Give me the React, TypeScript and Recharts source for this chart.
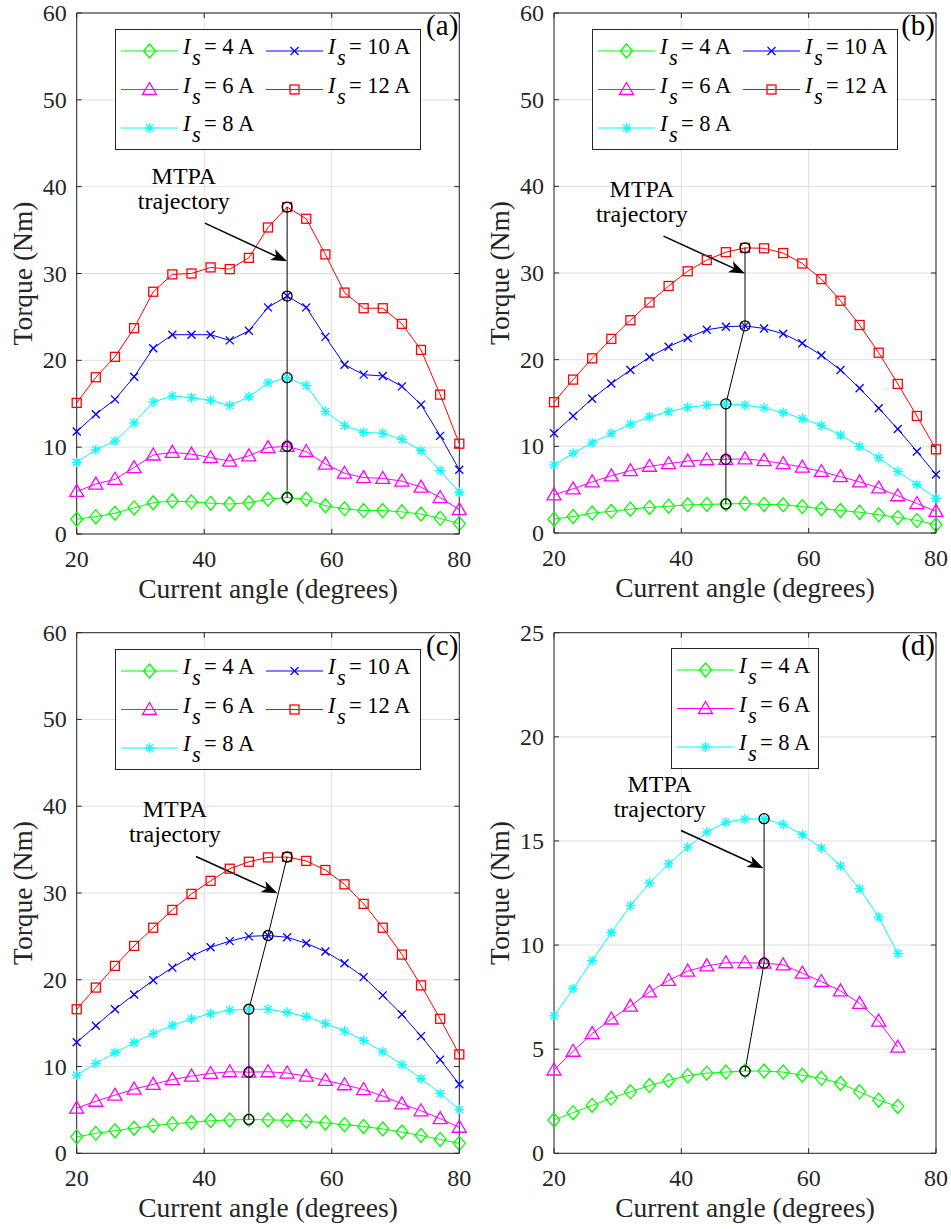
import React from "react";
import {
  LineChart,
  Line,
  XAxis,
  YAxis,
  CartesianGrid,
  Legend,
  ReferenceDot,
  ReferenceLine,
  ReferenceArea,
} from "recharts";

const FONT = "Liberation Serif, Times New Roman, serif";
const INK = "#262626";

// current angle samples (degrees)
const angles = [20, 23, 26, 29, 32, 35, 38, 41, 44, 47, 50, 53, 56, 59, 62, 65, 68, 71, 74, 77, 80];
const anglesD = [20, 23, 26, 29, 32, 35, 38, 41, 44, 47, 50, 53, 56, 59, 62, 65, 68, 71, 74];

// (a)
const a4 = [1.7, 2.0, 2.4, 3.0, 3.6, 3.8, 3.7, 3.55, 3.45, 3.6, 4.0, 4.2, 4.0, 3.25, 2.9, 2.7, 2.7, 2.55, 2.3, 1.8, 1.2];
const a6 = [4.9, 5.75, 6.3, 7.65, 9.1, 9.4, 9.2, 8.8, 8.4, 9.0, 9.95, 10.1, 9.5, 8.05, 7.0, 6.5, 6.4, 6.1, 5.4, 4.2, 2.8];
const a8 = [8.25, 9.7, 10.7, 12.8, 15.2, 15.9, 15.7, 15.4, 14.8, 15.8, 17.4, 18.0, 17.1, 14.1, 12.5, 11.7, 11.6, 10.9, 9.6, 7.3, 4.8];
const a10 = [11.8, 13.8, 15.5, 18.1, 21.4, 22.95, 22.95, 22.95, 22.3, 23.4, 26.1, 27.4, 26.1, 22.7, 19.5, 18.35, 18.2, 17.0, 14.9, 11.3, 7.4];
const a12 = [15.1, 18.05, 20.4, 23.7, 27.9, 29.9, 30.0, 30.7, 30.5, 31.8, 35.3, 37.65, 36.3, 32.2, 27.8, 26.0, 26.0, 24.2, 21.2, 16.05, 10.4];
const mtpaAngleA = [53, 53, 53, 53, 53];
const mtpaTorqueA = [4.2, 10.1, 18.0, 27.4, 37.65];

// (b)
const b4 = [1.6, 1.9, 2.3, 2.5, 2.75, 2.95, 3.1, 3.25, 3.3, 3.35, 3.4, 3.3, 3.25, 3.05, 2.8, 2.6, 2.4, 2.1, 1.8, 1.45, 0.95];
const b6 = [4.4, 5.1, 5.9, 6.6, 7.2, 7.7, 8.0, 8.3, 8.45, 8.5, 8.55, 8.35, 8.0, 7.6, 7.1, 6.5, 5.9, 5.2, 4.3, 3.4, 2.5];
const b8 = [7.85, 9.2, 10.4, 11.5, 12.55, 13.4, 14.0, 14.5, 14.75, 14.9, 14.75, 14.45, 13.9, 13.2, 12.4, 11.3, 10.0, 8.7, 7.1, 5.6, 4.0];
const b10 = [11.5, 13.5, 15.5, 17.25, 18.8, 20.3, 21.5, 22.5, 23.45, 23.8, 23.9, 23.6, 23.0, 21.9, 20.5, 18.8, 16.7, 14.4, 12.0, 9.4, 6.75];
const b12 = [15.1, 17.7, 20.15, 22.4, 24.55, 26.6, 28.5, 30.2, 31.5, 32.4, 32.9, 32.85, 32.3, 31.1, 29.3, 26.8, 24.0, 20.8, 17.2, 13.5, 9.65];
const mtpaAngleB = [47, 47, 47, 50, 50];
const mtpaTorqueB = [3.35, 8.5, 14.9, 23.9, 32.9];

// (c)
const c4 = [1.9, 2.3, 2.6, 2.9, 3.2, 3.4, 3.55, 3.75, 3.85, 3.9, 3.85, 3.8, 3.7, 3.5, 3.3, 3.1, 2.8, 2.45, 2.05, 1.6, 1.15];
const c6 = [5.2, 6.0, 6.7, 7.4, 7.95, 8.5, 8.9, 9.2, 9.4, 9.35, 9.4, 9.25, 8.9, 8.4, 7.9, 7.35, 6.6, 5.7, 4.9, 4.0, 3.0];
const c8 = [9.0, 10.35, 11.6, 12.75, 13.8, 14.75, 15.5, 16.1, 16.5, 16.6, 16.6, 16.25, 15.75, 14.95, 14.1, 13.0, 11.7, 10.2, 8.6, 6.9, 5.05];
const c10 = [12.8, 14.7, 16.6, 18.3, 19.95, 21.4, 22.7, 23.75, 24.45, 25.0, 25.1, 24.9, 24.2, 23.25, 21.9, 20.3, 18.2, 16.0, 13.5, 10.8, 7.95];
const c12 = [16.6, 19.1, 21.6, 23.9, 26.0, 28.05, 29.9, 31.4, 32.8, 33.6, 34.1, 34.15, 33.7, 32.65, 31.0, 28.75, 26.0, 22.9, 19.35, 15.5, 11.4];
const mtpaAngleC = [47, 47, 47, 50, 53];
const mtpaTorqueC = [3.9, 9.35, 16.6, 25.1, 34.15];

// (d)
const d4 = [1.6, 1.95, 2.3, 2.65, 2.95, 3.25, 3.5, 3.73, 3.85, 3.9, 3.95, 3.95, 3.9, 3.75, 3.6, 3.35, 2.95, 2.55, 2.25];
const d6 = [4.0, 4.9, 5.75, 6.45, 7.07, 7.75, 8.3, 8.75, 9.0, 9.15, 9.15, 9.13, 9.05, 8.65, 8.25, 7.8, 7.2, 6.35, 5.1];
const d8 = [6.6, 7.9, 9.25, 10.6, 11.9, 12.98, 13.9, 14.7, 15.43, 15.9, 16.05, 16.07, 15.8, 15.3, 14.66, 13.8, 12.7, 11.35, 9.6];
const mtpaAngleD = [50, 53, 53];
const mtpaTorqueD = [3.95, 9.13, 16.07];

const xTicks = [20, 40, 60, 80];
const yTicks60 = [0, 10, 20, 30, 40, 50, 60];
const yTicks25 = [0, 5, 10, 15, 20, 25];

type Kind = "diamond" | "triangle" | "star" | "cross" | "square" | "circle";

const SERIES: Record<string, { amps: number; color: string; kind: Kind }> = {
  i4: { amps: 4, color: "#00ff00", kind: "diamond" },
  i6: { amps: 6, color: "#ff00ff", kind: "triangle" },
  i8: { amps: 8, color: "#00ffff", kind: "star" },
  i10: { amps: 10, color: "#0000ff", kind: "cross" },
  i12: { amps: 12, color: "#ff0000", kind: "square" },
};

const table = (xs: number[], cols: Record<string, number[]>) =>
  xs.map((angle, i) => {
    const row: Record<string, number> = { angle };
    Object.keys(cols).forEach((k) => (row[k] = cols[k][i]));
    return row;
  });

const mtpaRows = (xs: number[], ts: number[]) => xs.map((angle, i) => ({ angle, t: ts[i] }));

function Marker({ kind, cx, cy, color }: { kind: Kind; cx: number; cy: number; color: string }) {
  const sw = 1.3;
  switch (kind) {
    case "diamond":
      return (
        <polygon
          points={`${cx},${cy - 7} ${cx + 6},${cy} ${cx},${cy + 7} ${cx - 6},${cy}`}
          fill="none"
          stroke={color}
          strokeWidth={sw}
        />
      );
    case "triangle":
      return (
        <polygon
          points={`${cx},${cy - 7} ${cx + 7},${cy + 5} ${cx - 7},${cy + 5}`}
          fill="none"
          stroke={color}
          strokeWidth={sw}
        />
      );
    case "star":
      return (
        <g stroke={color} strokeWidth={sw}>
          <line x1={cx - 5} y1={cy} x2={cx + 5} y2={cy} />
          <line x1={cx} y1={cy - 5} x2={cx} y2={cy + 5} />
          <line x1={cx - 3.6} y1={cy - 3.6} x2={cx + 3.6} y2={cy + 3.6} />
          <line x1={cx - 3.6} y1={cy + 3.6} x2={cx + 3.6} y2={cy - 3.6} />
        </g>
      );
    case "cross":
      return (
        <g stroke={color} strokeWidth={sw}>
          <line x1={cx - 4} y1={cy - 4} x2={cx + 4} y2={cy + 4} />
          <line x1={cx - 4} y1={cy + 4} x2={cx + 4} y2={cy - 4} />
        </g>
      );
    case "square":
      return <rect x={cx - 4.5} y={cy - 4.5} width={9} height={9} fill="none" stroke={color} strokeWidth={sw} />;
    default:
      return <circle cx={cx} cy={cy} r={5} fill="none" stroke={color} strokeWidth={sw} />;
  }
}

function Arrow(p: any) {
  const { x1, y1, x2, y2 } = p;
  const dx = x2 - x1;
  const dy = y2 - y1;
  const len = Math.hypot(dx, dy) || 1;
  const ux = dx / len;
  const uy = dy / len;
  const hl = 16;
  const hw = 6;
  const bx = x2 - ux * hl;
  const by = y2 - uy * hl;
  const nx = x2 - ux * hl * 0.75;
  const ny = y2 - uy * hl * 0.75;
  return (
    <g>
      <line x1={x1} y1={y1} x2={nx} y2={ny} stroke="#000" strokeWidth={1.5} />
      <polygon
        points={`${x2},${y2} ${bx - uy * hw},${by + ux * hw} ${nx},${ny} ${bx + uy * hw},${by - ux * hw}`}
        fill="#000"
      />
    </g>
  );
}

function LegendBox({ keys, width }: { keys: string[]; width: number }) {
  return (
    <svg width={width} height={121} style={{ display: "block", fontFamily: FONT }}>
      <rect x={0.5} y={0.5} width={width - 1} height={120} fill="#fff" stroke={INK} strokeWidth={1} />
      {keys.map((k, i) => {
        const s = SERIES[k];
        const X = 6 + Math.floor(i / 3) * 145;
        const Y = 22 + (i % 3) * 38.5;
        return (
          <g key={k} fontFamily={FONT} fontSize={22.5} fill="#000">
            <line x1={X} x2={X + 57} y1={Y} y2={Y} stroke={s.color} strokeWidth={1} />
            <Marker kind={s.kind} cx={X + 28.5} cy={Y} color={s.color} />
            <text x={X + 62} y={Y + 3} fontStyle="italic">I</text>
            <text x={X + 71} y={Y + 14} fontStyle="italic">s</text>
            <text x={X + 83} y={Y + 3}>{`= ${s.amps} A`}</text>
          </g>
        );
      })}
    </svg>
  );
}

type PanelCfg = {
  left: number;
  top: number;
  width: number;
  height: number;
  plotLeft: number;
  plotTop: number;
  plotRight: number;
  plotBottom: number;
  rows: Record<string, number>[];
  keys: string[];
  mtpa: { angle: number; t: number }[];
  yMax: number;
  yTicks: number[];
  tag: string;
  note: { x: number; y: number };
  arrow: { x1: number; y1: number; x2: number; y2: number };
  legend: { left: number; top: number; width: number; keys: string[] };
};

function Panel(c: PanelCfg) {
  const pw = c.width - c.plotLeft - c.plotRight;
  const ph = c.height - c.plotTop - c.plotBottom;
  return (
    <div style={{ position: "absolute", left: c.left, top: c.top, fontFamily: FONT }}>
      <LineChart
        width={c.width}
        height={c.height}
        data={c.rows}
        margin={{ top: c.plotTop, right: c.plotRight, bottom: 0, left: 0 }}
        style={{ fontFamily: FONT }}
      >
        <CartesianGrid stroke="#dfdfdf" strokeWidth={1} />
        <XAxis
          dataKey="angle"
          type="number"
          domain={[20, 80]}
          ticks={xTicks}
          height={c.plotBottom}
          axisLine={false}
          tickLine={false}
          tickSize={0}
          tickMargin={0}
          tick={(p: any) => (
            <g>
              <line x1={p.x} x2={p.x} y1={p.y} y2={p.y - 5} stroke={INK} />
              <line x1={p.x} x2={p.x} y1={p.y - ph} y2={p.y - ph + 5} stroke={INK} />
              <text x={p.x} y={p.y + 33} textAnchor="middle" fontFamily={FONT} fontSize={24} fill={INK}>
                {p.payload.value}
              </text>
            </g>
          )}
          label={(p: any) => {
            const vb = p.viewBox || { x: c.plotLeft, y: c.plotTop + ph, width: pw };
            return (
              <text
                x={vb.x + vb.width / 2}
                y={vb.y + 64}
                textAnchor="middle"
                fontFamily={FONT}
                fontSize={27.5}
                fill={INK}
              >
                Current angle (degrees)
              </text>
            );
          }}
        />
        <YAxis
          type="number"
          domain={[0, c.yMax]}
          ticks={c.yTicks}
          width={c.plotLeft}
          axisLine={false}
          tickLine={false}
          tickSize={0}
          tickMargin={0}
          tick={(p: any) => (
            <g>
              <line x1={p.x} x2={p.x + 5} y1={p.y} y2={p.y} stroke={INK} />
              <line x1={p.x + pw} x2={p.x + pw - 5} y1={p.y} y2={p.y} stroke={INK} />
              <text x={p.x - 10} y={p.y + 8} textAnchor="end" fontFamily={FONT} fontSize={24} fill={INK}>
                {p.payload.value}
              </text>
            </g>
          )}
          label={(p: any) => {
            const vb = p.viewBox || { x: 0, y: c.plotTop, width: c.plotLeft, height: ph };
            const lx = vb.x + vb.width - 45;
            const ly = vb.y + vb.height / 2;
            return (
              <text
                x={lx}
                y={ly}
                transform={`rotate(-90 ${lx} ${ly})`}
                textAnchor="middle"
                fontFamily={FONT}
                fontSize={27.5}
                fill={INK}
              >
                Torque (Nm)
              </text>
            );
          }}
        />
        {c.keys.map((k) => {
          const s = SERIES[k];
          return (
            <Line
              key={k}
              dataKey={k}
              type="linear"
              stroke={s.color}
              strokeWidth={1}
              isAnimationActive={false}
              activeDot={false}
              dot={(p: any) =>
                p.cx == null ? <g key={`${k}-${p.index}`} /> : (
                  <Marker key={`${k}-${p.index}`} kind={s.kind} cx={p.cx} cy={p.cy} color={s.color} />
                )
              }
            />
          );
        })}
        <Line
          data={c.mtpa}
          dataKey="t"
          type="linear"
          stroke="#000"
          strokeWidth={1}
          isAnimationActive={false}
          activeDot={false}
          dot={(p: any) => <Marker key={`m-${p.index}`} kind="circle" cx={p.cx} cy={p.cy} color="#000" />}
        />
        <ReferenceArea x1={20} x2={80} y1={0} y2={c.yMax} fill="none" stroke={INK} strokeWidth={1} ifOverflow="visible" />
        <ReferenceLine
          segment={[
            { x: c.arrow.x1, y: c.arrow.y1 },
            { x: c.arrow.x2, y: c.arrow.y2 },
          ]}
          ifOverflow="visible"
          shape={(p: any) => <Arrow {...p} />}
        />
        <ReferenceDot
          x={c.note.x}
          y={c.note.y}
          r={0}
          ifOverflow="visible"
          shape={(p: any) => (
            <text x={p.cx} y={p.cy} textAnchor="middle" fontFamily={FONT} fontSize={24} fill="#000">
              <tspan x={p.cx} dy={0}>MTPA</tspan>
              <tspan x={p.cx} dy={25}>trajectory</tspan>
            </text>
          )}
        />
        <ReferenceDot
          x={80}
          y={c.yMax}
          r={0}
          ifOverflow="visible"
          shape={(p: any) => (
            <text x={p.cx - 1} y={p.cy + 22} textAnchor="end" fontFamily={FONT} fontSize={29} fill="#000">
              {c.tag}
            </text>
          )}
        />
        <Legend
          layout="vertical"
          verticalAlign="middle"
          align="center"
          wrapperStyle={{ left: c.legend.left, top: c.legend.top, width: c.legend.width, height: 121 }}
          content={() => <LegendBox keys={c.legend.keys} width={c.legend.width} />}
        />
      </LineChart>
    </div>
  );
}

const keys5 = ["i4", "i6", "i8", "i10", "i12"];
const keys3 = ["i4", "i6", "i8"];

const panels: PanelCfg[] = [
  {
    left: 0, top: 0, width: 475, height: 610,
    plotLeft: 76.7, plotTop: 13, plotRight: 15.7, plotBottom: 76,
    rows: table(angles, { i4: a4, i6: a6, i8: a8, i10: a10, i12: a12 }),
    keys: keys5, mtpa: mtpaRows(mtpaAngleA, mtpaTorqueA), yMax: 60, yTicks: yTicks60, tag: "(a)",
    note: { x: 36.8, y: 40.3 },
    arrow: { x1: 40.1, y1: 35.8, x2: 53.0, y2: 31.4 },
    legend: { left: 115, top: 29, width: 306, keys: keys5 },
  },
  {
    left: 475, top: 0, width: 476, height: 610,
    plotLeft: 79, plotTop: 13, plotRight: 15, plotBottom: 77,
    rows: table(angles, { i4: b4, i6: b6, i8: b8, i10: b10, i12: b12 }),
    keys: keys5, mtpa: mtpaRows(mtpaAngleB, mtpaTorqueB), yMax: 60, yTicks: yTicks60, tag: "(b)",
    note: { x: 33.8, y: 38.8 },
    arrow: { x1: 37.2, y1: 34.25, x2: 50.0, y2: 29.95 },
    legend: { left: 116.7, top: 29, width: 306, keys: keys5 },
  },
  {
    left: 0, top: 610, width: 475, height: 619,
    plotLeft: 76.7, plotTop: 22.7, plotRight: 15.7, plotBottom: 75.7,
    rows: table(angles, { i4: c4, i6: c6, i8: c8, i10: c10, i12: c12 }),
    keys: keys5, mtpa: mtpaRows(mtpaAngleC, mtpaTorqueC), yMax: 60, yTicks: yTicks60, tag: "(c)",
    note: { x: 35.4, y: 38.8 },
    arrow: { x1: 38.7, y1: 34.2, x2: 51.5, y2: 29.96 },
    legend: { left: 115, top: 39, width: 306, keys: keys5 },
  },
  {
    left: 475, top: 610, width: 476, height: 619,
    plotLeft: 79, plotTop: 22.7, plotRight: 15, plotBottom: 75.7,
    rows: table(anglesD, { i4: d4, i6: d6, i8: d8 }),
    keys: keys3, mtpa: mtpaRows(mtpaAngleD, mtpaTorqueD), yMax: 25, yTicks: yTicks25, tag: "(d)",
    note: { x: 36.6, y: 17.37 },
    arrow: { x1: 39.95, y1: 15.5, x2: 52.9, y2: 13.69 },
    legend: { left: 196, top: 38, width: 148, keys: keys3 },
  },
];

export default function App() {
  return (
    <div
      style={{
        position: "absolute",
        left: 0,
        top: 0,
        width: 951,
        height: 1229,
        background: "#fff",
        fontFamily: FONT,
      }}
    >
      {panels.map((p) => (
        <Panel key={p.tag} {...p} />
      ))}
    </div>
  );
}
